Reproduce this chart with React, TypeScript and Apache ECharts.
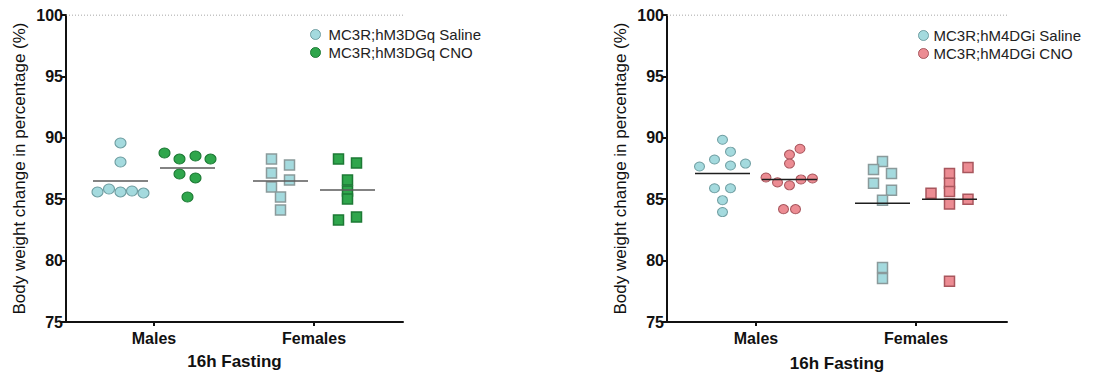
import React, { useEffect, useRef } from "react";
import * as echarts from "echarts";

// ---------- data ----------
const categories = ["Males", "Females"];
const yMin = 75;
const yMax = 100;
const yStep = 5;

const m3Names = ["MC3R;hM3DGq Saline", "MC3R;hM3DGq CNO"];
const m4Names = ["MC3R;hM4DGi Saline", "MC3R;hM4DGi CNO"];

// left panel (hM3DGq)
const m3SalineMales = [85.59, 85.83, 85.59, 85.67, 85.5, 89.58, 88.03];
const m3CnoMales = [88.76, 88.27, 88.52, 88.27, 87.05, 86.73, 85.18];
const m3SalineFemales = [88.27, 87.13, 87.79, 86.56, 85.99, 85.18, 84.12];
const m3CnoFemales = [88.27, 87.95, 86.56, 85.67, 85.02, 83.31, 83.55];
const m3SalineMeans = [86.48, 86.48];
const m3CnoMeans = [87.54, 85.75];

// right panel (hM4DGi)
const m4SalineMales = [89.84, 88.87, 88.23, 87.66, 87.74, 87.9, 85.89, 85.89, 84.92, 83.95];
const m4CnoMales = [89.11, 88.63, 87.9, 86.77, 86.37, 86.13, 86.61, 86.69, 84.19, 84.19];
const m4SalineFemales = [88.06, 87.42, 87.1, 86.29, 85.73, 84.92, 79.44, 78.55];
const m4CnoFemales = [87.58, 87.1, 86.29, 85.62, 84.6, 85.48, 85.0, 78.31];
const m4SalineMeans = [87.1, 84.68];
const m4CnoMeans = [86.61, 85.0];

// ---------- layout (scatter jitter, px along x) ----------
const jm3SalineMales = [-23, -11.5, 0, 11.5, 23, 0, 0];
const jm3CnoMales = [-23, -8, 8, 23, -8, 8, 0];
const jm3SalineFemales = [-9, -9, 9, 9, -9, 0, 0];
const jm3CnoFemales = [-9, 9, 0, 0, 0, -9, 9];
const jm4SalineMales = [0, 8, -8, -23, 8, 23, -8, 8, 0, 0];
const jm4CnoMales = [10.5, 0, 0, -23.5, -12, 0, 11.5, 23, -6, 6];
const jm4SalineFemales = [0, -9, 9, -9, 9, 0, 0, 0];
const jm4CnoFemales = [18.5, 0, 0, 0, 0, -18.5, 18.5, 0];

const FONT = 'Arial, "Liberation Sans", Helvetica, sans-serif';
const SALINE = "#a4dade";
const SALINE_BORDER = "#6f9ea2";
const GREEN = "#2fa64c";
const GREEN_BORDER = "#1d7a35";
const PINK = "#ec8c93";
const PINK_BORDER = "#a8565d";

type Panel = {
  grid: { left: number; top: number; width: number; height: number };
  catPos: number[];
  names: string[];
  colors: string[];
  borders: string[];
  meanColor: string;
  groups: { values: number[]; jitter: number[]; cat: number; s: number }[];
  means: number[][];
  legendLeft: number;
  legendTop: number;
  legendIconW: number;
  yNameGap: number;
  xNameGap: number;
};

const OFFSET = 33.5;
const HALF_MEAN = 27.5;

const panels: Panel[] = [
  {
    grid: { left: 66, top: 15, width: 337, height: 307 },
    catPos: [88, 248],
    names: m3Names,
    colors: [SALINE, GREEN],
    borders: [SALINE_BORDER, GREEN_BORDER],
    meanColor: "#5a5a5a",
    groups: [
      { values: m3SalineMales, jitter: jm3SalineMales, cat: 0, s: 0 },
      { values: m3CnoMales, jitter: jm3CnoMales, cat: 0, s: 1 },
      { values: m3SalineFemales, jitter: jm3SalineFemales, cat: 1, s: 0 },
      { values: m3CnoFemales, jitter: jm3CnoFemales, cat: 1, s: 1 },
    ],
    means: [m3SalineMeans, m3CnoMeans],
    legendLeft: 305,
    legendTop: 22,
    legendIconW: 16,
    yNameGap: 38,
    xNameGap: 31,
  },
  {
    grid: { left: 667, top: 15, width: 340, height: 310 },
    catPos: [89, 249],
    names: m4Names,
    colors: [SALINE, PINK],
    borders: [SALINE_BORDER, PINK_BORDER],
    meanColor: "#1e1e1e",
    groups: [
      { values: m4SalineMales, jitter: jm4SalineMales, cat: 0, s: 0 },
      { values: m4CnoMales, jitter: jm4CnoMales, cat: 0, s: 1 },
      { values: m4SalineFemales, jitter: jm4SalineFemales, cat: 1, s: 0 },
      { values: m4CnoFemales, jitter: jm4CnoFemales, cat: 1, s: 1 },
    ],
    means: [m4SalineMeans, m4CnoMeans],
    legendLeft: 913,
    legendTop: 23,
    legendIconW: 10,
    yNameGap: 38,
    xNameGap: 33,
  },
];

function buildOption() {
  const grids: any[] = [];
  const xAxes: any[] = [];
  const yAxes: any[] = [];
  const series: any[] = [];
  const legends: any[] = [];

  panels.forEach((p, pi) => {
    grids.push({ ...p.grid, containLabel: false });
    const catPos = p.catPos;
    xAxes.push({
      gridIndex: pi,
      type: "value",
      min: 0,
      max: p.grid.width,
      name: "16h Fasting",
      nameLocation: "middle",
      nameGap: p.xNameGap,
      nameTextStyle: { fontFamily: FONT, fontSize: 17, fontWeight: "bold", color: "#111" },
      axisLine: { show: true, lineStyle: { color: "#111", width: 2 } },
      axisTick: {
        show: true,
        length: 4,
        lineStyle: { color: "#111", width: 2 },
        customValues: catPos,
      },
      axisLabel: {
        show: true,
        margin: 8,
        customValues: catPos,
        formatter: (v: number) => categories[catPos.indexOf(v)] ?? "",
        fontFamily: FONT,
        fontSize: 16,
        fontWeight: "bold",
        color: "#111",
      },
      splitLine: { show: false },
    });
    yAxes.push({
      gridIndex: pi,
      type: "value",
      min: yMin,
      max: yMax,
      interval: yStep,
      name: "Body weight change in percentage (%)",
      nameLocation: "middle",
      nameRotate: 90,
      nameGap: p.yNameGap,
      nameTextStyle: { fontFamily: FONT, fontSize: 17, color: "#111" },
      axisLine: { show: true, lineStyle: { color: "#111", width: 2 } },
      axisTick: { show: true, length: 5, lineStyle: { color: "#111", width: 2 } },
      axisLabel: { margin: 3, fontFamily: FONT, fontSize: 16, fontWeight: "bold", color: "#111" },
      splitLine: { show: false },
    });

    // dotted 100% reference line
    series.push({
      type: "line",
      xAxisIndex: pi,
      yAxisIndex: pi,
      data: [
        [0, yMax],
        [p.grid.width, yMax],
      ],
      symbol: "none",
      silent: true,
      lineStyle: { color: "#8a8a8a", width: 1, type: [1, 2] },
      z: 1,
    });

    p.groups.forEach((g) => {
      const cx = catPos[g.cat] + (g.s === 0 ? -OFFSET : OFFSET);
      series.push({
        type: "scatter",
        name: p.names[g.s],
        xAxisIndex: pi,
        yAxisIndex: pi,
        symbol: g.cat === 0 ? "circle" : "rect",
        symbolSize: g.cat === 0 ? (pi === 0 ? [11, 10] : [10, 9]) : 10,
        itemStyle: {
          color: p.colors[g.s],
          borderColor: g.cat === 0 ? p.borders[g.s] : g.s === 0 ? "#8a9a9b" : p.borders[g.s],
          borderWidth: g.cat === 0 ? 1 : 1.5,
          opacity: 1,
        },
        data: g.values.map((v, i) => [cx + g.jitter[i], v]),
        z: 3,
      });
    });

    p.means.forEach((arr, s) => {
      arr.forEach((m, cat) => {
        const cx = catPos[cat] + (s === 0 ? -OFFSET : OFFSET);
        series.push({
          type: "line",
          xAxisIndex: pi,
          yAxisIndex: pi,
          data: [
            [cx - HALF_MEAN, m],
            [cx + HALF_MEAN, m],
          ],
          symbol: "none",
          silent: true,
          lineStyle: { color: p.meanColor, width: 1.5 },
          z: 5,
        });
      });
    });

    legends.push({
      data: p.names,
      left: p.legendLeft,
      top: p.legendTop,
      orient: "vertical",
      icon: "circle",
      itemWidth: p.legendIconW,
      itemHeight: 10,
      itemGap: 3,
      selectedMode: false,
      textStyle: { fontFamily: FONT, fontSize: 15, color: "#222" },
      itemStyle: { borderWidth: 1 },
    });
  });

  return {
    animation: false,
    backgroundColor: "#ffffff",
    grid: grids,
    xAxis: xAxes,
    yAxis: yAxes,
    legend: legends,
    series,
  };
}

export default function App() {
  const ref = useRef<HTMLDivElement>(null);
  useEffect(() => {
    if (!ref.current) return;
    const chart = echarts.init(ref.current, undefined, { renderer: "svg" });
    chart.setOption(buildOption() as any);
    return () => chart.dispose();
  }, []);
  return (
    <div
      ref={ref}
      style={{ position: "absolute", left: 0, top: 0, width: 1108, height: 377, background: "#fff" }}
    />
  );
}
